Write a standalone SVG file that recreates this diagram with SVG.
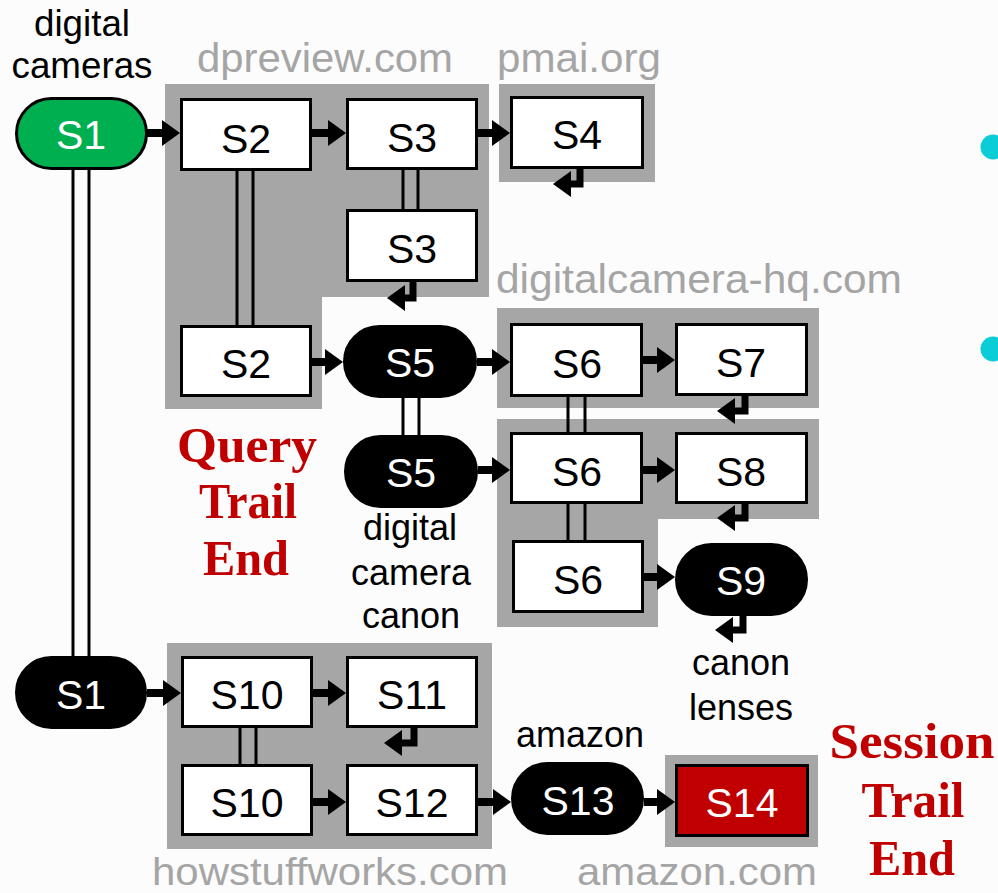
<svg xmlns="http://www.w3.org/2000/svg" width="998" height="893" viewBox="0 0 998 893">
<style>
.bg{fill:#FCFCFC}
.grp{fill:#A6A6A6}
.box{fill:#FFFFFF;stroke:#000;stroke-width:3}
.red{fill:#C00000;stroke:#000;stroke-width:3}
.pill{fill:#000;stroke:#000;stroke-width:3}
.green{fill:#00B050;stroke:#000;stroke-width:3}
.lb{font-family:"Liberation Sans",Arial,sans-serif;font-size:41px;text-anchor:middle;fill:#000}
.lw{font-family:"Liberation Sans",Arial,sans-serif;font-size:41px;text-anchor:middle;fill:#FFF}
.q{font-family:"Liberation Sans",Arial,sans-serif;font-size:36px;text-anchor:middle;fill:#000}
.site{font-family:"Liberation Sans",Arial,sans-serif;font-size:40px;fill:#A5A5A5}
.site2{font-family:"Liberation Sans",Arial,sans-serif;font-size:38px;fill:#A5A5A5}
.end{font-family:"Liberation Serif","Times New Roman",serif;font-size:50px;font-weight:bold;text-anchor:middle;fill:#C00000}
.arr{fill:none;stroke:#000;stroke-width:8;marker-end:url(#ah)}
.ret{fill:none;stroke:#000;stroke-width:7;stroke-linejoin:miter;marker-end:url(#ah)}
.dbl{stroke:#000;stroke-width:3}
.dot{fill:#0BCDD8}
</style>
<defs>
<marker id="ah" markerUnits="userSpaceOnUse" markerWidth="18" markerHeight="26" refX="4" refY="13" orient="auto">
<path d="M0,0 L18,13 L0,26 z" fill="#000"/>
</marker>
</defs>
<rect class="bg" x="0" y="0" width="998" height="893"/>

<g id="groups">
<polygon id="grp-dpreview" class="grp" points="165,84 489,84 489,297 322,297 322,409 165,409"/>
<rect id="grp-pmai" class="grp" x="499" y="84" width="156" height="98"/>
<rect id="grp-hq1" class="grp" x="497" y="308" width="322" height="100"/>
<polygon id="grp-hq2" class="grp" points="497,419 819,419 819,519 658,519 658,627 497,627"/>
<rect id="grp-hsw" class="grp" x="167" y="643" width="325" height="206"/>
<rect id="grp-amazon" class="grp" x="665" y="755" width="153" height="92"/>
</g>

<g id="site-labels">
<text class="site" x="197" y="72" textLength="256" lengthAdjust="spacingAndGlyphs">dpreview.com</text>
<text class="site" x="497" y="72" textLength="164" lengthAdjust="spacingAndGlyphs">pmai.org</text>
<text class="site" x="496" y="293" textLength="406" lengthAdjust="spacingAndGlyphs">digitalcamera-hq.com</text>
<text class="site2" x="152" y="885" textLength="356" lengthAdjust="spacingAndGlyphs">howstuffworks.com</text>
<text class="site2" x="577" y="885" textLength="240" lengthAdjust="spacingAndGlyphs">amazon.com</text>
</g>

<g id="connectors">
<line class="dbl" x1="73" y1="170" x2="73" y2="656"/>
<line class="dbl" x1="89" y1="170" x2="89" y2="656"/>
<line class="dbl" x1="237" y1="171" x2="237" y2="325"/>
<line class="dbl" x1="253" y1="171" x2="253" y2="325"/>
<line class="dbl" x1="403" y1="170" x2="403" y2="209"/>
<line class="dbl" x1="418" y1="170" x2="418" y2="209"/>
<line class="dbl" x1="403" y1="398" x2="403" y2="435"/>
<line class="dbl" x1="419" y1="398" x2="419" y2="435"/>
<line class="dbl" x1="568" y1="396" x2="568" y2="432"/>
<line class="dbl" x1="585" y1="396" x2="585" y2="432"/>
<line class="dbl" x1="568" y1="504" x2="568" y2="540"/>
<line class="dbl" x1="585" y1="504" x2="585" y2="540"/>
<line class="dbl" x1="240" y1="728" x2="240" y2="764"/>
<line class="dbl" x1="256" y1="728" x2="256" y2="764"/>

<path class="arr" d="M147,133 H166"/>
<path class="arr" d="M312,133 H332"/>
<path class="arr" d="M478,133 H496"/>
<path class="arr" d="M312,362 H329"/>
<path class="arr" d="M477,362 H496"/>
<path class="arr" d="M643,360 H661"/>
<path class="arr" d="M478,470 H496"/>
<path class="arr" d="M643,470 H661"/>
<path class="arr" d="M644,577 H661"/>
<path class="arr" d="M147,693 H167"/>
<path class="arr" d="M313,693 H332"/>
<path class="arr" d="M313,802 H332"/>
<path class="arr" d="M478,802 H497"/>
<path class="arr" d="M644,802 H661"/>

<path class="ret" d="M580,169 V184 H567"/>
<path class="ret" d="M413,282 V298 H401"/>
<path class="ret" d="M745,396 V411 H731"/>
<path class="ret" d="M745,504 V518 H731"/>
<path class="ret" d="M743,616 V630 H729"/>
<path class="ret" d="M414,728 V743 H398"/>
</g>

<g id="S1a"><rect class="green" x="16.5" y="98.5" width="130" height="70" rx="35"/><text class="lw" x="81" y="149">S1</text></g>
<g id="S2a"><rect class="box" x="181.5" y="99.5" width="129" height="70"/><text class="lb" x="246" y="153">S2</text></g>
<g id="S3a"><rect class="box" x="347.5" y="99.5" width="129" height="69"/><text class="lb" x="412" y="152">S3</text></g>
<g id="S4"><rect class="box" x="511.5" y="97.5" width="131" height="70"/><text class="lb" x="577" y="149">S4</text></g>
<g id="S3b"><rect class="box" x="347.5" y="210.5" width="129" height="70"/><text class="lb" x="412" y="263">S3</text></g>
<g id="S2b"><rect class="box" x="181.5" y="326.5" width="129" height="69"/><text class="lb" x="246" y="378">S2</text></g>
<g id="S5a"><rect class="pill" x="344.5" y="326.5" width="131" height="70" rx="35"/><text class="lw" x="410" y="377">S5</text></g>
<g id="S5b"><rect class="pill" x="345.5" y="436.5" width="131" height="70" rx="35"/><text class="lw" x="411" y="487">S5</text></g>
<g id="S6a"><rect class="box" x="511.5" y="324.5" width="130" height="71"/><text class="lb" x="577" y="378">S6</text></g>
<g id="S7"><rect class="box" x="676.5" y="324.5" width="130" height="70"/><text class="lb" x="741" y="377">S7</text></g>
<g id="S6b"><rect class="box" x="511.5" y="433.5" width="130" height="69"/><text class="lb" x="577" y="486">S6</text></g>
<g id="S8"><rect class="box" x="676.5" y="433.5" width="130" height="69"/><text class="lb" x="741" y="486">S8</text></g>
<g id="S6c"><rect class="box" x="513.5" y="541.5" width="129" height="70"/><text class="lb" x="578" y="594">S6</text></g>
<g id="S9"><rect class="pill" x="676.5" y="544.5" width="130" height="70" rx="35"/><text class="lw" x="741" y="595">S9</text></g>
<g id="S1b"><rect class="pill" x="16.5" y="657.5" width="129" height="70" rx="35"/><text class="lw" x="81" y="709">S1</text></g>
<g id="S10a"><rect class="box" x="182.5" y="657.5" width="129" height="69"/><text class="lb" x="247" y="709">S10</text></g>
<g id="S11"><rect class="box" x="347.5" y="657.5" width="129" height="69"/><text class="lb" x="412" y="709">S11</text></g>
<g id="S10b"><rect class="box" x="182.5" y="765.5" width="129" height="69"/><text class="lb" x="247" y="817">S10</text></g>
<g id="S12"><rect class="box" x="347.5" y="765.5" width="129" height="69"/><text class="lb" x="412" y="817">S12</text></g>
<g id="S13"><rect class="pill" x="512.5" y="763.5" width="130" height="70" rx="35"/><text class="lw" x="578" y="815">S13</text></g>
<g id="S14"><rect class="red" x="676.5" y="765.5" width="131" height="70"/><text class="lw" x="742" y="817">S14</text></g>

<g id="query-labels">
<text class="q" x="82" y="36" textLength="96" lengthAdjust="spacingAndGlyphs">digital</text>
<text class="q" x="82" y="78" textLength="141" lengthAdjust="spacingAndGlyphs">cameras</text>
<text class="q" x="410" y="540">digital</text>
<text class="q" x="411" y="585">camera</text>
<text class="q" x="411" y="628">canon</text>
<text class="q" x="741" y="675">canon</text>
<text class="q" x="741" y="720">lenses</text>
<text class="q" x="580" y="747">amazon</text>
</g>

<g id="trail-labels">
<text class="end" x="247" y="462" textLength="140" lengthAdjust="spacingAndGlyphs">Query</text>
<text class="end" x="248" y="518" textLength="98" lengthAdjust="spacingAndGlyphs">Trail</text>
<text class="end" x="246" y="575" textLength="86" lengthAdjust="spacingAndGlyphs">End</text>
<text class="end" x="912" y="758" textLength="165" lengthAdjust="spacingAndGlyphs">Session</text>
<text class="end" x="913" y="817" textLength="103" lengthAdjust="spacingAndGlyphs">Trail</text>
<text class="end" x="912" y="875" textLength="86" lengthAdjust="spacingAndGlyphs">End</text>
</g>

<g id="bullets">
<circle class="dot" cx="993" cy="147" r="12.5"/>
<circle class="dot" cx="993" cy="349" r="12.5"/>
</g>
</svg>
